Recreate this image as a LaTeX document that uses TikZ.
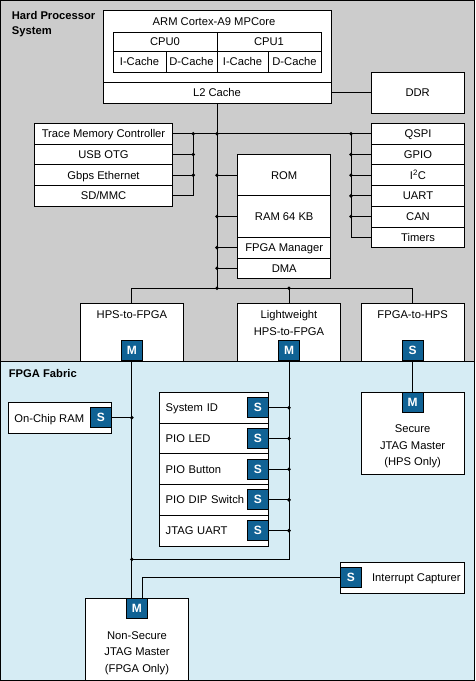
\documentclass[tikz,border=0pt]{standalone}
\usepackage{fontspec}
\setmainfont{Liberation Sans}
\usepackage{xcolor}
\usetikzlibrary{positioning}
\definecolor{hpsgray}{RGB}{204,204,204}
\definecolor{fabricblue}{RGB}{214,236,244}
\definecolor{portblue}{RGB}{16,98,148}

\begin{document}
\begin{tikzpicture}[x=1pt, y=-1pt, line width=0.8pt,
	txt/.style={inner sep=0pt, text height=8.2pt, text depth=0pt, align=center, font=\fontsize{11.2}{16.5}\selectfont},
	box/.style={txt, draw, fill=white},
	slot/.style={box, minimum width=109.4pt, minimum height=30.74pt, text width=96.6pt, align=left},
	port/.style={txt, draw, fill=portblue, text=white, minimum width=21pt, minimum height=20.5pt, font=\fontsize{12}{14}\selectfont\bfseries}]
	\useasboundingbox (0,0) rectangle (475,681);
	
	% fundos
	\fill[hpsgray] (0,0) rectangle (475,361);
	\fill[fabricblue] (0,361) rectangle (475,681);
	\draw (0,361) -- (475,361);
	
	% titulos (nós de várias linhas: centrados na última linha)
	\node[txt, anchor=west, align=left, font=\fontsize{11.2}{15.7}\selectfont\bfseries] (hps) at (11.5,30.7) {Hard Processor\\System};
	\node[txt, anchor=west, font=\fontsize{11.2}{15.5}\selectfont\bfseries] (fab) at (8.5,373) {FPGA Fabric};
	
	% MPCore
	\node[box, minimum width=228pt, minimum height=93pt] (arm) at (217,56.5) {};
	\node[txt] (armtxt) at (214,21) {ARM Cortex-A9 MPCore};
	\node[box, minimum width=104pt, minimum height=19pt] (cpu0) at (165,41.5) {CPU0};
	\node[box, minimum width=104pt, minimum height=19pt] (cpu1) at (269,41.5) {CPU1};
	\node[box, minimum width=53pt, minimum height=21pt] (ic0) at (139.5,61.5) {I-Cache};
	\node[box, minimum width=51pt, minimum height=21pt] (dc0) at (191.5,61.5) {D-Cache};
	\node[box, minimum width=51pt, minimum height=21pt] (ic1) at (242.5,61.5) {I-Cache};
	\node[box, minimum width=53pt, minimum height=21pt] (dc1) at (294.5,61.5) {D-Cache};
	\node[box, minimum width=228pt, minimum height=21pt] (l2) at (217,92.5) {L2 Cache};
	
	% DDR
	\node[box, minimum width=93pt, minimum height=41pt] (ddr) at (417.7,92.5) {DDR};
	\draw (l2.east) -- (ddr.west);
	
	% perifericos esquerda
	\node[box, minimum width=138.4pt, minimum height=20.7pt] (tmc) at (103.5,133.75) {Trace Memory Controller};
	\node[box, minimum width=138.4pt, minimum height=20.7pt] (usb) at (103.5,154.45) {USB OTG};
	\node[box, minimum width=138.4pt, minimum height=20.7pt] (eth) at (103.5,175.15) {Gbps Ethernet};
	\node[box, minimum width=138.4pt, minimum height=20.7pt] (sdmmc) at (103.5,195.85) {SD/MMC};
	
	% perifericos direita
	\node[box, minimum width=92.6pt, minimum height=20.7pt] (qspi) at (418,133.75) {QSPI};
	\node[box, minimum width=92.6pt, minimum height=20.7pt] (gpio) at (418,154.45) {GPIO};
	\node[box, minimum width=92.6pt, minimum height=20.7pt] (itwoc) at (418,175.15) {I\textsuperscript{2}C};
	\node[box, minimum width=92.6pt, minimum height=20.7pt] (uart) at (418,195.85) {UART};
	\node[box, minimum width=92.6pt, minimum height=20.7pt] (can) at (418,216.55) {CAN};
	\node[box, minimum width=92.6pt, minimum height=20.7pt] (timers) at (418,237.25) {Timers};
	
	% memorias
	\node[box, minimum width=93pt, minimum height=41.4pt] (rom) at (284.2,175.15) {ROM};
	\node[box, minimum width=93pt, minimum height=41.4pt] (ram) at (284.2,216.55) {RAM 64 KB};
	\node[box, minimum width=93pt, minimum height=20.7pt] (fmgr) at (284.2,247.6) {FPGA Manager};
	\node[box, minimum width=93pt, minimum height=20.7pt] (dma) at (284.2,268.3) {DMA};
	
	% pontes
	\node[box, minimum width=103.7pt, minimum height=57.7pt] (h2f) at (131.85,332.15) {};
	\node[box, minimum width=103pt, minimum height=57.7pt] (lw) at (289,332.15) {};
	\node[box, minimum width=103.3pt, minimum height=57.7pt] (f2h) at (412.65,332.15) {};
	\node[txt] (h2ftxt) at (131.85,314.3) {HPS-to-FPGA};
	\node[txt] (lwtxt) at (289,331) {Lightweight\\HPS-to-FPGA};
	\node[txt] (f2htxt) at (412.65,314.3) {FPGA-to-HPS};
	\node[port] (h2fm) at (131.85,350.5) {M};
	\node[port] (lwm) at (289,350.5) {M};
	\node[port] (f2hs) at (412.65,350.5) {S};
	
	% barramento principal
	\coordinate (bt) at (217,288.3);
	\draw (l2.south) -- (bt);
	\draw (h2f.north) |- (bt) -| (f2h.north);
	\draw (lw.north) -- (lw.north |- bt);
	\draw (tmc.east) -- (qspi.west);
	\draw (l2.south |- rom.west) -- (rom.west);
	\draw (l2.south |- ram.west) -- (ram.west);
	\draw (l2.south |- fmgr.west) -- (fmgr.west);
	\draw (l2.south |- dma.west) -- (dma.west);
	
	% barramento esquerda
	\coordinate (lbus) at (193.3,133.75);
	\draw (lbus) |- (sdmmc.east);
	\draw (usb.east) -- (usb.east -| lbus);
	\draw (eth.east) -- (eth.east -| lbus);
	
	% barramento direita
	\coordinate (rbus) at (351,133.75);
	\draw (rbus) |- (timers.west);
	\draw (gpio.west) -- (gpio.west -| rbus);
	\draw (itwoc.west) -- (itwoc.west -| rbus);
	\draw (uart.west) -- (uart.west -| rbus);
	\draw (can.west) -- (can.west -| rbus);
	
	% junções
	\fill (lbus) circle (1.9pt) (usb.east -| lbus) circle (1.9pt) (eth.east -| lbus) circle (1.9pt);
	\fill (rbus) circle (1.9pt) (gpio.west -| rbus) circle (1.9pt) (itwoc.west -| rbus) circle (1.9pt);
	\fill (uart.west -| rbus) circle (1.9pt) (can.west -| rbus) circle (1.9pt);
	\fill (l2.south |- tmc.east) circle (1.9pt) (l2.south |- rom.west) circle (1.9pt) (l2.south |- ram.west) circle (1.9pt);
	\fill (l2.south |- fmgr.west) circle (1.9pt) (l2.south |- dma.west) circle (1.9pt) (bt) circle (1.9pt);
	\fill (lw.north |- bt) circle (1.9pt);
	
	% Secure JTAG Master
	\node[box, minimum width=103.4pt, minimum height=82pt] (sec) at (412.65,433.3) {};
	\node[port] (secm) at (412.65,402.5) {M};
	\node[txt] (sectxt) at (412.65,461.7) {Secure\\JTAG Master\\(HPS Only)};
	\draw (f2hs.south) -- (secm.north);
	
	% On-Chip RAM
	\node[box, minimum width=103.4pt, minimum height=30.6pt] (ocr) at (60,418) {};
	\node[txt, anchor=west] (ocrtxt) at (14,418) {On-Chip RAM};
	\node[port, minimum width=20.3pt, minimum height=20pt] (ocrs) at (100.85,417.7) {S};
	
	% escravos leves
	\node[slot] (sysid) at (214,407.67) {System ID};
	\node[slot] (pioled) at (214,438.41) {PIO LED};
	\node[slot] (piobtn) at (214,469.15) {PIO Button};
	\node[slot] (piosw) at (214,499.89) {PIO DIP Switch};
	\node[slot] (juart) at (214,530.63) {JTAG UART};
	\node[port, minimum height=20pt] (sysids) at (257.8,407.67) {S};
	\node[port, minimum height=20pt] (pioleds) at (257.8,438.41) {S};
	\node[port, minimum height=20pt] (piobtns) at (257.8,469.15) {S};
	\node[port, minimum height=20pt] (piosws) at (257.8,499.89) {S};
	\node[port, minimum height=20pt] (juarts) at (257.8,530.63) {S};
	
	% Interrupt Capturer
	\node[box, minimum width=124.7pt, minimum height=31pt] (irq) at (402.35,577.8) {};
	\node[port, minimum width=21.7pt, minimum height=20.4pt] (irqs) at (350.85,577.5) {S};
	\node[txt, anchor=west] (irqtxt) at (371.7,577.5) {Interrupt Capturer};
	
	% Non-Secure JTAG Master
	\node[box, minimum width=103pt, minimum height=81.7pt] (ns) at (137.2,639.15) {};
	\node[port, minimum width=21.7pt, minimum height=20.4pt] (nsm) at (136.85,608.5) {M};
	\node[txt] (nstxt) at (137,668.3) {Non-Secure\\JTAG Master\\(FPGA Only)};
	
	% ligações FPGA
	\coordinate (lwend) at (289,559.3);
	\coordinate (irqk) at (142.7,577.5);
	\draw (h2fm.south) -- (h2fm.south |- nsm.north);
	\draw (lwm.south) -- (lwend) -- (h2fm.south |- lwend);
	\draw (ocrs.east) -- (h2fm.south |- ocrs.east);
	\draw (sysids.east) -- (sysids.east -| lwm.south);
	\draw (pioleds.east) -- (pioleds.east -| lwm.south);
	\draw (piobtns.east) -- (piobtns.east -| lwm.south);
	\draw (piosws.east) -- (piosws.east -| lwm.south);
	\draw (juarts.east) -- (juarts.east -| lwm.south);
	\draw (irqs.west) -- (irqk) -- (irqk |- nsm.north);
	\fill (h2fm.south |- ocrs.east) circle (1.9pt) (h2fm.south |- lwend) circle (1.9pt);
	\fill (sysids.east -| lwm.south) circle (1.9pt) (pioleds.east -| lwm.south) circle (1.9pt) (piobtns.east -| lwm.south) circle (1.9pt);
	\fill (piosws.east -| lwm.south) circle (1.9pt) (juarts.east -| lwm.south) circle (1.9pt);
	
	% moldura
	\draw[line width=1.3pt] (0.65,0.65) rectangle (474.35,680.35);
\end{tikzpicture}
\end{document}
